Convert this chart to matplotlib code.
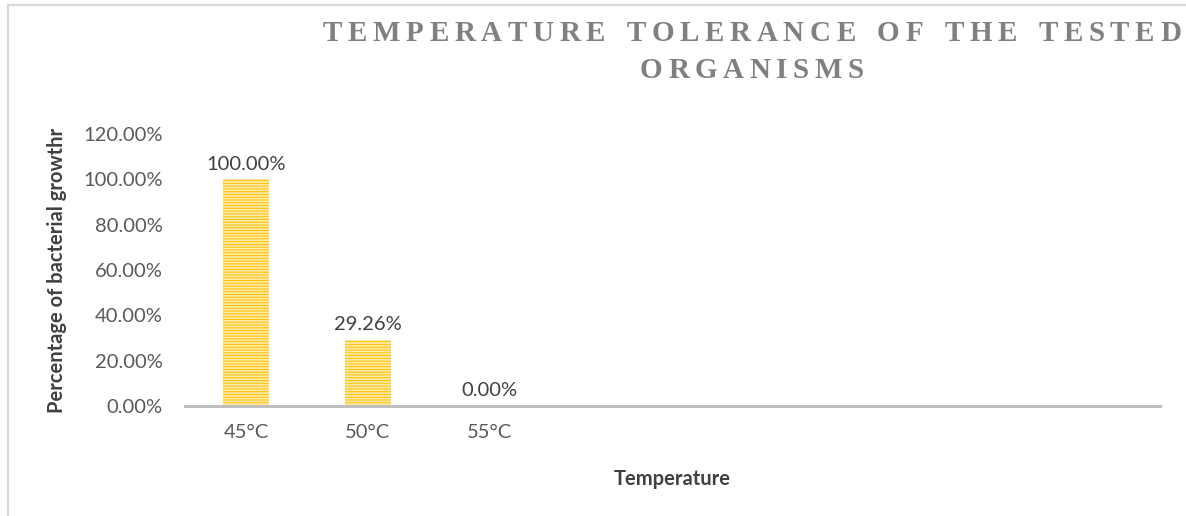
import matplotlib
matplotlib.use('Agg')
import matplotlib.pyplot as plt
from matplotlib.lines import Line2D
import numpy as np

# Growth at each incubation temperature (fraction of 1)
temps = ['45°C', '50°C', '55°C']
growth = [1.0, 0.2926, 0.0]
n_slots = 8  # category axis has room for 8 groups, only 3 used
yticks = [0.0, 0.2, 0.4, 0.6, 0.8, 1.0, 1.2]

bar_face = '#FFC000'
bar_stripe = '#FFE9A6'
grey_txt = '#595959'

plt.rcParams['font.family'] = ['Lato', 'DejaVu Sans']
plt.rcParams['hatch.linewidth'] = 1.3

fig = plt.figure(figsize=(11.86, 5.16), dpi=100)
ax = fig.add_axes([0.156, 0.213, 0.822, 0.527])

x = np.arange(len(temps))
bars = ax.bar(x, growth, width=0.38, color=bar_face, edgecolor=bar_stripe,
              linewidth=0, hatch='------', zorder=2)

for xi, v in zip(x, growth):
    ax.text(xi, v + 0.03, f'{v*100:.2f}%', ha='center', va='bottom',
            fontsize=14.5, color='#404040')

ax.set_xlim(-0.5, n_slots - 0.5)
ax.set_ylim(0, 1.2)
ax.set_xticks(x)
ax.set_xticklabels(temps, fontsize=14.5, color=grey_txt)
ax.set_yticks(yticks)
ax.set_yticklabels([f'{t*100:.2f}%' for t in yticks], fontsize=14.5, color=grey_txt)
ax.tick_params(axis='both', length=0)
ax.tick_params(axis='y', pad=16)
ax.tick_params(axis='x', pad=13)

for s in ['top', 'right', 'left']:
    ax.spines[s].set_visible(False)
ax.spines['bottom'].set_color('#BFBFBF')
ax.spines['bottom'].set_linewidth(2.2)
ax.spines['bottom'].set_zorder(3)

ax.set_xlabel('Temperature', fontsize=14.5, fontweight='bold', color='#404040', labelpad=20)
ax.set_ylabel('Percentage of bacterial growthr', fontsize=14.5, fontweight='bold',
              color='#404040', labelpad=12)

# chart frame (left and top edges)
fig.add_artist(Line2D([0.007, 0.007], [0.0, 0.99], color='#D9D9D9', lw=1.5))
fig.add_artist(Line2D([0.007, 1.0], [0.99, 0.99], color='#D9D9D9', lw=1.5))

# title with wide letter spacing, drawn one character at a time
def spaced_title(text, xc, y, size, track):
    fig.canvas.draw()
    r = fig.canvas.get_renderer()
    props = dict(fontsize=size, fontweight='bold', color='#808080',
                 family='Liberation Serif', va='baseline', ha='left')
    widths = []
    for ch in text:
        t = fig.text(0, 0, ch if ch != ' ' else 'I', **props)
        w = t.get_window_extent(r).width
        t.remove()
        widths.append(w * (0.9 if ch == ' ' else 1.0))
    total = sum(widths) + track * (len(text) - 1)
    xpix = xc * fig.bbox.width - total / 2
    for ch, w in zip(text, widths):
        if ch != ' ':
            fig.text(xpix / fig.bbox.width, y, ch, **props)
        xpix += w + track

spaced_title('TEMPERATURE TOLERANCE OF THE TESTED', 0.634, 0.92, 21, 5.6)
spaced_title('ORGANISMS', 0.634, 0.848, 21, 5.6)

fig.savefig('out.png', dpi=100)
